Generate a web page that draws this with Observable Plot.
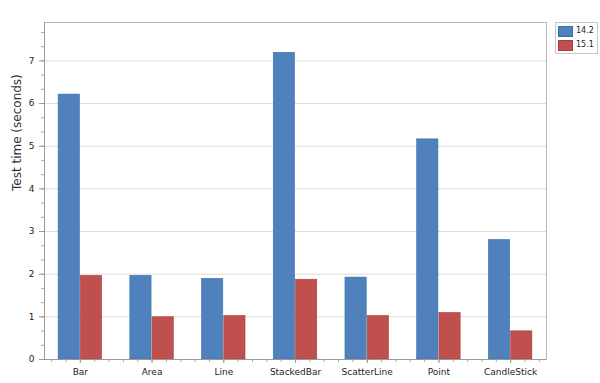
<!DOCTYPE html>
<html><head><meta charset="utf-8">
<script src="https://cdn.jsdelivr.net/npm/d3@7"></script>
<script src="https://cdn.jsdelivr.net/npm/@observablehq/plot@0.6"></script>
<style>
body{margin:0;background:#fff;}
#c{position:relative;width:600px;height:383px;font-family:"DejaVu Sans",sans-serif;}
.legend{position:absolute;left:555px;top:22px;width:41px;height:30px;border:1px solid #c8c8c8;background:#fff;}
.item{position:absolute;left:2px;height:10px;font-size:8px;line-height:10px;color:#222;}
.sw{position:absolute;left:0;top:0;width:13px;height:9px;}
.lab{position:absolute;left:18px;top:0;white-space:nowrap;}
</style>
</head><body><div id="c"></div>
<script>
const categories = ["Bar","Area","Line","StackedBar","ScatterLine","Point","CandleStick"];
const series = ["14.2","15.1"];
const values142 = [6.21,1.96,1.89,7.19,1.92,5.16,2.80];
const values151 = [1.96,0.99,1.02,1.87,1.02,1.09,0.66];
const colors = ["#4f81bd","#c0504d"];
const borders = ["#3a6ea5","#a83f3c"];
const yTicks = [0,1,2,3,4,5,6,7];
const yLabel = "Test time (seconds)";

const seriesValues = [values142, values151];
const data = [];
categories.forEach((c, i) => series.forEach((s, k) => data.push({cat: c, i, series: s, k, value: seriesValues[k][i]})));
const catIdx = categories.map((c, i) => i);
const minorY = d3.range(0, 7.9, 1/3);
const minorX = d3.range(-0.4, 6.5, 0.2);
const W = 0.31;

const chart = Plot.plot({
  width: 600, height: 383,
  marginLeft: 44, marginRight: 54, marginTop: 22, marginBottom: 24,
  style: {fontFamily: "DejaVu Sans, sans-serif", fontSize: "9px", color: "#222", background: "#fff"},
  x: {domain: [-0.5, 6.5], axis: null},
  y: {domain: [0, 7.9], axis: null},
  color: {domain: series, range: colors},
  marks: [
    Plot.gridY(yTicks.slice(1), {stroke: "#dcdcdc", strokeOpacity: 1}),
    Plot.rectY(data, {
      x1: d => d.i + (d.k - 1) * W, x2: d => d.i + d.k * W, y: "value",
      fill: "series", stroke: d => borders[d.k], strokeWidth: 0.6,
      insetLeft: 0.5, insetRight: 0.5
    }),
    Plot.frame({stroke: "#b8b8b8"}),
    Plot.ruleX([-0.5], {stroke: "#999"}),
    Plot.ruleY([0], {stroke: "#999"}),
    Plot.axisY(minorY, {tickSize: 3, tickFormat: () => "", label: null, stroke: "#aaa"}),
    Plot.axisY(yTicks, {tickSize: 5, tickPadding: 5, tickFormat: d => String(d), label: null, stroke: "#999", fontSize: 9}),
    Plot.axisX(minorX, {tickSize: 3, tickFormat: () => "", label: null, stroke: "#aaa"}),
    Plot.axisX(catIdx, {tickSize: 4, tickPadding: 5, tickFormat: i => categories[i], label: null, stroke: "#999", fontSize: 9}),
    Plot.text([yLabel], {frameAnchor: "left", rotate: -90, dx: -27, fontSize: 12, fill: "#333", text: d => d})
  ]
});
document.getElementById("c").appendChild(chart);

const leg = document.createElement("div");
leg.className = "legend";
series.forEach((s, k) => {
  const it = document.createElement("div");
  it.className = "item";
  it.style.top = (3 + k * 14) + "px";
  it.innerHTML = `<div class="sw" style="background:${colors[k]};border:1px solid ${borders[k]}"></div><span class="lab">${s}</span>`;
  leg.appendChild(it);
});
document.getElementById("c").appendChild(leg);
</script>
</body></html>
